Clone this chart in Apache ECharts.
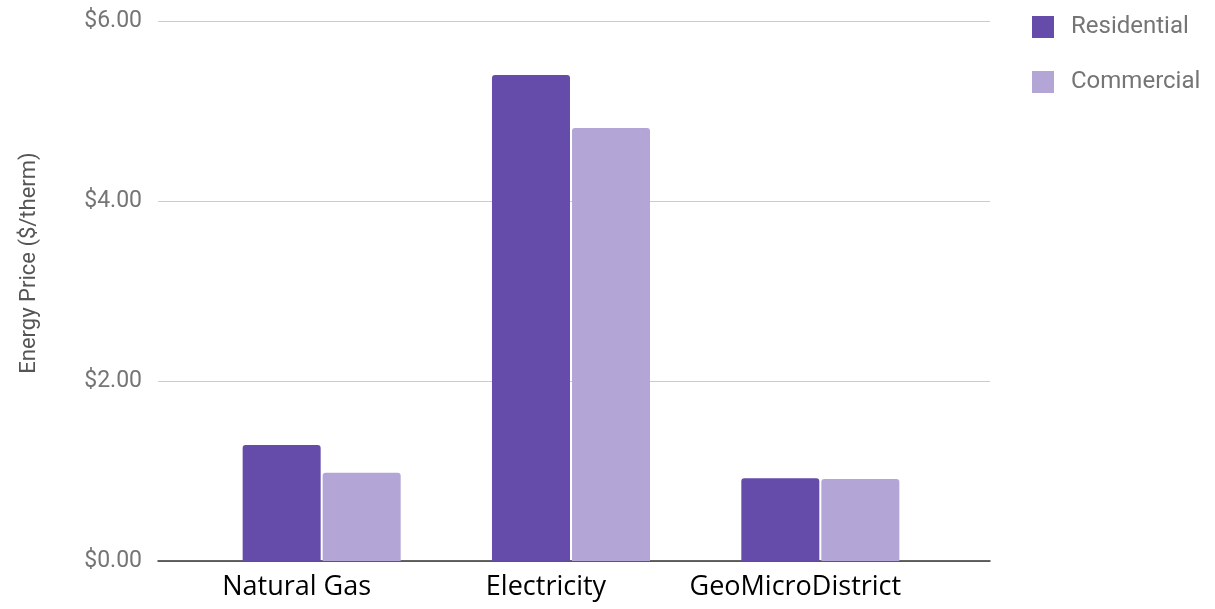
<!DOCTYPE html>
<html><head><meta charset="utf-8">
<script src="https://cdn.jsdelivr.net/npm/echarts@6/dist/echarts.min.js"></script>
<style>html,body{margin:0;padding:0;background:#fff}#c{width:1215px;height:609px}</style>
</head><body><div id="c"></div>
<script>
const categories = ['Natural Gas', 'Electricity', 'GeoMicroDistrict'];
const residential = [1.29, 5.40, 0.92];
const commercial = [0.98, 4.81, 0.91];
const yTicks = [0, 2, 4, 6];
const seriesNames = ['Residential', 'Commercial'];
const yTitle = 'Energy Price ($/therm)';

const chart = echarts.init(document.getElementById('c'), null, {renderer: 'canvas'});
const gray = '#757575';
chart.setOption({
  animation: false,
  backgroundColor: '#fff',
  legend: {
    orient: 'vertical', left: 1027, top: 10,
    itemWidth: 22, itemHeight: 22, itemGap: 31,
    icon: 'rect',
    textStyle: {color: gray, fontFamily: 'Roboto', fontSize: 24, padding: [0, 0, 0, 12]},
    data: seriesNames
  },
  grid: [
    {left: 158, right: 225, top: 21, bottom: 48, outerBoundsMode: 'none', containLabel: false},
    {left: 197, right: 270, top: 21, bottom: 48, outerBoundsMode: 'none', containLabel: false}
  ],
  xAxis: [
    {gridIndex: 0, type: 'value', min: 0, max: 1, show: true,
     axisLine: {show: true, onZero: false, lineStyle: {color: '#333', width: 1.5}},
     axisTick: {show: false}, axisLabel: {show: false}, splitLine: {show: false}},
    {gridIndex: 1, type: 'category', data: categories,
     axisLine: {show: false}, axisTick: {show: false},
     axisLabel: {interval: 0, color: '#000', fontFamily: 'Open Sans', fontSize: 27, margin: 13,
       padding: [0, 50, 0, 0]}}
  ],
  yAxis: [
    {gridIndex: 0, type: 'value', min: yTicks[0], max: yTicks[yTicks.length - 1], interval: 2,
     name: yTitle, nameLocation: 'middle', nameGap: 118,
     nameTextStyle: {color: '#555', fontFamily: 'Roboto', fontSize: 22, padding: [0, 0, 0, 56]},
     axisLine: {show: false}, axisTick: {show: false},
     axisLabel: {color: gray, fontFamily: 'Roboto', fontSize: 23, margin: 16,
       formatter: v => '$' + v.toFixed(2)},
     splitLine: {lineStyle: {color: '#cccccc', width: 1}}},
    {gridIndex: 1, type: 'value', min: yTicks[0], max: yTicks[yTicks.length - 1], show: false,
     splitLine: {show: false}}
  ],
  series: [
    {name: seriesNames[0], type: 'bar', xAxisIndex: 1, yAxisIndex: 1, data: residential,
     barWidth: 78, barGap: '2.6%', itemStyle: {color: '#654baa', borderRadius: [3, 3, 0, 0]}},
    {name: seriesNames[1], type: 'bar', xAxisIndex: 1, yAxisIndex: 1, data: commercial,
     barWidth: 78, barGap: '2.6%', itemStyle: {color: '#b3a6d6', borderRadius: [3, 3, 0, 0]}}
  ]
});
</script></body></html>
